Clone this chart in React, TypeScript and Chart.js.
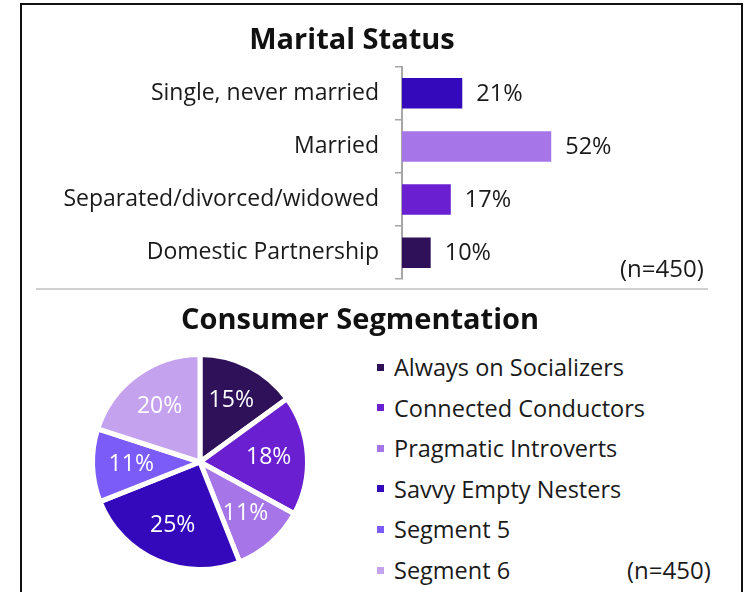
import React, { useEffect, useRef } from "react";
import { Chart, registerables } from "chart.js";

Chart.register(...registerables);

// ---------- data ----------
const maritalTitle = "Marital Status";
const maritalCategories = [
  "Single, never married",
  "Married",
  "Separated/divorced/widowed",
  "Domestic Partnership",
];
const maritalValues = [21, 52, 17, 10];
const maritalColors = ["#3409BC", "#A675E8", "#6A1FD1", "#2E1159"];

const segmentTitle = "Consumer Segmentation";
const segmentLabels = [
  "Always on Socializers",
  "Connected Conductors",
  "Pragmatic Introverts",
  "Savvy Empty Nesters",
  "Segment 5",
  "Segment 6",
];
const segmentValues = [15, 18, 11, 25, 11, 20];
const segmentColors = ["#2E1159", "#6A1FD1", "#A675E8", "#3409BC", "#7B5CF8", "#C4A2EE"];

const sampleNote = "(n=450)";

const FONT = "'Open Sans', Lato, sans-serif";
const TEXT = "#1a1a1a";

const barValueLabels = {
  id: "barValueLabels",
  afterDatasetsDraw(chart: any) {
    const ctx = chart.ctx;
    const meta = chart.getDatasetMeta(0);
    const data = chart.data.datasets[0].data;
    ctx.save();
    ctx.font = `23.5px ${FONT}`;
    ctx.fillStyle = TEXT;
    ctx.textAlign = "left";
    ctx.textBaseline = "middle";
    meta.data.forEach((bar: any, i: number) => {
      ctx.fillText(`${data[i]}%`, bar.x + 14, bar.y + 1);
    });
    ctx.restore();
  },
};

const pieValueLabels = {
  id: "pieValueLabels",
  afterDatasetsDraw(chart: any) {
    const ctx = chart.ctx;
    const meta = chart.getDatasetMeta(0);
    const data = chart.data.datasets[0].data;
    ctx.save();
    ctx.font = `23px ${FONT}`;
    ctx.fillStyle = "#ffffff";
    ctx.textAlign = "center";
    ctx.textBaseline = "middle";
    meta.data.forEach((arc: any, i: number) => {
      const p = arc.getProps(["x", "y", "startAngle", "endAngle", "outerRadius"], true);
      const mid = (p.startAngle + p.endAngle) / 2;
      const r = p.outerRadius * 0.64;
      ctx.fillText(`${data[i]}%`, p.x + Math.cos(mid) * r, p.y + Math.sin(mid) * r);
    });
    ctx.restore();
  },
};

function BarChart() {
  const ref = useRef<HTMLCanvasElement>(null);
  useEffect(() => {
    const chart = new Chart(ref.current as HTMLCanvasElement, {
      type: "bar",
      data: {
        labels: maritalCategories,
        datasets: [
          {
            data: maritalValues,
            backgroundColor: maritalColors,
            categoryPercentage: 1,
            barPercentage: 0.575,
          },
        ],
      },
      options: {
        indexAxis: "y",
        responsive: false,
        animation: false,
        layout: { padding: { left: 15, right: 15, top: 0, bottom: 8 } },
        plugins: {
          legend: { display: false },
          tooltip: { enabled: false },
          title: {
            display: true,
            text: maritalTitle,
            color: "#111",
            font: { family: FONT, size: 29, weight: "bold" },
            padding: { top: 19.5, bottom: 8.5 },
          },
        },
        scales: {
          x: { display: false, min: 0, max: 100 },
          y: {
            afterFit: (s: any) => {
              s.width = 387;
            },
            grid: {
              drawOnChartArea: false,
              drawTicks: true,
              tickLength: 7,
              color: "#a6a6a6",
              lineWidth: 1.5,
              offset: true,
            },
            border: { color: "#a6a6a6", width: 2 },
            ticks: { font: { family: FONT, size: 23 }, color: TEXT, padding: 16 },
          },
        },
      } as any,
      plugins: [barValueLabels],
    });
    return () => chart.destroy();
  }, []);
  return (
    <canvas
      ref={ref}
      width={704}
      height={305}
      style={{ position: "absolute", left: 0, top: 4, display: "block" }}
    />
  );
}

function PieChart() {
  const ref = useRef<HTMLCanvasElement>(null);
  useEffect(() => {
    const chart = new Chart(ref.current as HTMLCanvasElement, {
      type: "pie",
      data: {
        labels: segmentLabels,
        datasets: [
          {
            data: segmentValues,
            backgroundColor: segmentColors,
            borderColor: "#ffffff",
            borderWidth: 5,
            radius: 107.5,
          },
        ],
      },
      options: {
        responsive: false,
        animation: false,
        layout: { padding: 0 },
        plugins: {
          tooltip: { enabled: false },
          legend: { display: false },
        },
      } as any,
      plugins: [pieValueLabels],
    });
    return () => chart.destroy();
  }, []);
  return (
    <canvas
      ref={ref}
      width={230}
      height={230}
      style={{ position: "absolute", left: 84.5, top: 346.5, display: "block" }}
    />
  );
}

function Legend() {
  return (
    <div style={{ position: "absolute", left: 377, top: 347 }}>
      {segmentLabels.map((label, i) => (
        <div
          key={label}
          style={{
            position: "absolute",
            left: 0,
            top: i * 40.6,
            height: 40,
            width: 340,
            display: "flex",
            alignItems: "center",
            whiteSpace: "nowrap",
          }}
        >
          <span
            style={{
              display: "inline-block",
              width: 7,
              height: 7,
              background: segmentColors[i],
              marginRight: 10,
            }}
          />
          <span style={{ fontSize: 23.5, color: TEXT, lineHeight: "40px" }}>{label}</span>
        </div>
      ))}
    </div>
  );
}

export default function App() {
  return (
    <div
      style={{
        position: "absolute",
        left: 0,
        top: 0,
        width: 754,
        height: 592,
        overflow: "hidden",
        background: "#fff",
        fontFamily: FONT,
      }}
    >
      <div
        style={{
          position: "absolute",
          left: 20,
          top: 3,
          width: 723,
          height: 700,
          border: "2px solid #111",
          boxSizing: "border-box",
        }}
      />
      <BarChart />
      <div
        style={{
          position: "absolute",
          left: 36,
          top: 288,
          width: 672,
          height: 2,
          background: "#d0d0d0",
        }}
      />
      <div
        style={{
          position: "absolute",
          left: 0,
          top: 301,
          width: 720,
          lineHeight: "34px",
          textAlign: "center",
          fontSize: 29,
          fontWeight: "bold",
          color: "#111",
        }}
      >
        {segmentTitle}
      </div>
      <PieChart />
      <Legend />
      <div
        style={{
          position: "absolute",
          left: 620,
          top: 254,
          lineHeight: "28px",
          fontSize: 24,
          color: TEXT,
        }}
      >
        {sampleNote}
      </div>
      <div
        style={{
          position: "absolute",
          left: 627,
          top: 556,
          lineHeight: "28px",
          fontSize: 24,
          color: TEXT,
        }}
      >
        {sampleNote}
      </div>
    </div>
  );
}
